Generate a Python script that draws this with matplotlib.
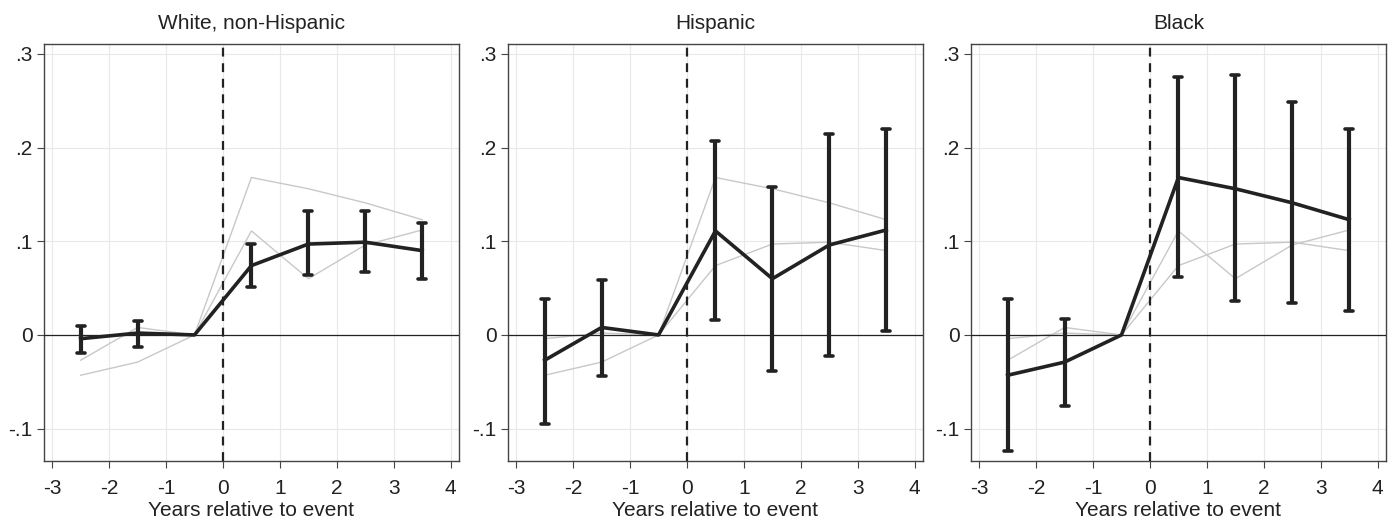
import numpy as np
import matplotlib.pyplot as plt

# Event-study estimates by group
years = [-2.5, -1.5, -0.5, 0.5, 1.5, 2.5, 3.5]

white_est = [-0.004, 0.002, 0.0, 0.074, 0.097, 0.099, 0.090]
white_lo = [-0.019, -0.013, None, 0.051, 0.064, 0.067, 0.060]
white_hi = [0.010, 0.015, None, 0.097, 0.132, 0.132, 0.120]

hisp_est = [-0.027, 0.008, 0.0, 0.111, 0.060, 0.096, 0.112]
hisp_lo = [-0.095, -0.044, None, 0.016, -0.038, -0.022, 0.004]
hisp_hi = [0.038, 0.059, None, 0.207, 0.158, 0.214, 0.220]

black_est = [-0.043, -0.029, 0.0, 0.168, 0.156, 0.141, 0.123]
black_lo = [-0.124, -0.076, None, 0.062, 0.036, 0.034, 0.026]
black_hi = [0.038, 0.017, None, 0.275, 0.277, 0.249, 0.220]

titles = ["White, non-Hispanic", "Hispanic", "Black"]
ests = [white_est, hisp_est, black_est]
los = [white_lo, hisp_lo, black_lo]
his = [white_hi, hisp_hi, black_hi]

yticks = [-0.1, 0, 0.1, 0.2, 0.3]
ytick_labels = ["-.1", "0", ".1", ".2", ".3"]
xticks = [-3, -2, -1, 0, 1, 2, 3, 4]

plt.rcParams["font.family"] = ["Liberation Sans", "DejaVu Sans"]

fig = plt.figure(figsize=(13.94, 5.2), dpi=100)
lefts = [0.0313, 0.3642, 0.6963]

for i in range(3):
    ax = fig.add_axes([lefts[i], 0.1135, 0.2981, 0.801])

    # other groups in gray
    for j in range(3):
        if j != i:
            ax.plot(years, ests[j], color="#c8c8c8", lw=1, zorder=2)

    ax.plot(years, ests[i], color="#222222", lw=2.6, zorder=4,
            solid_joinstyle="round")

    xs = [x for x, l in zip(years, los[i]) if l is not None]
    lo = np.array([l for l in los[i] if l is not None])
    hi = np.array([h for h in his[i] if h is not None])
    ax.vlines(xs, lo, hi, color="#222222", lw=3, zorder=5)
    ax.hlines(lo, np.array(xs) - 0.07, np.array(xs) + 0.07,
              color="#222222", lw=2.6, zorder=5, capstyle="round")
    ax.hlines(hi, np.array(xs) - 0.07, np.array(xs) + 0.07,
              color="#222222", lw=2.6, zorder=5, capstyle="round")

    ax.axhline(0, color="#222222", lw=0.9, zorder=3)
    ax.axvline(0, color="#222222", lw=1.6, ls=(0, (4, 3)), zorder=3)

    ax.set_xlim(-3.15, 4.15)
    ax.set_ylim(-0.1345, 0.31)
    ax.set_xticks(xticks)
    ax.set_xticklabels([str(x) for x in xticks])
    ax.set_yticks(yticks)
    ax.set_yticklabels(ytick_labels)
    ax.grid(True, color="#e8e8e8", lw=0.8, zorder=0)
    ax.set_axisbelow(True)

    for s in ax.spines.values():
        s.set_color("#444444")
        s.set_linewidth(1.0)
    ax.tick_params(axis="both", labelsize=15, color="#444444",
                   length=5, labelcolor="#222222")
    ax.tick_params(axis="x", pad=8)
    ax.tick_params(axis="y", pad=3)

    ax.set_title(titles[i], fontsize=15, pad=11, color="#222222")
    ax.set_xlabel("Years relative to event", fontsize=15, color="#222222",
                  labelpad=2)

fig.savefig("out.png", dpi=100)
